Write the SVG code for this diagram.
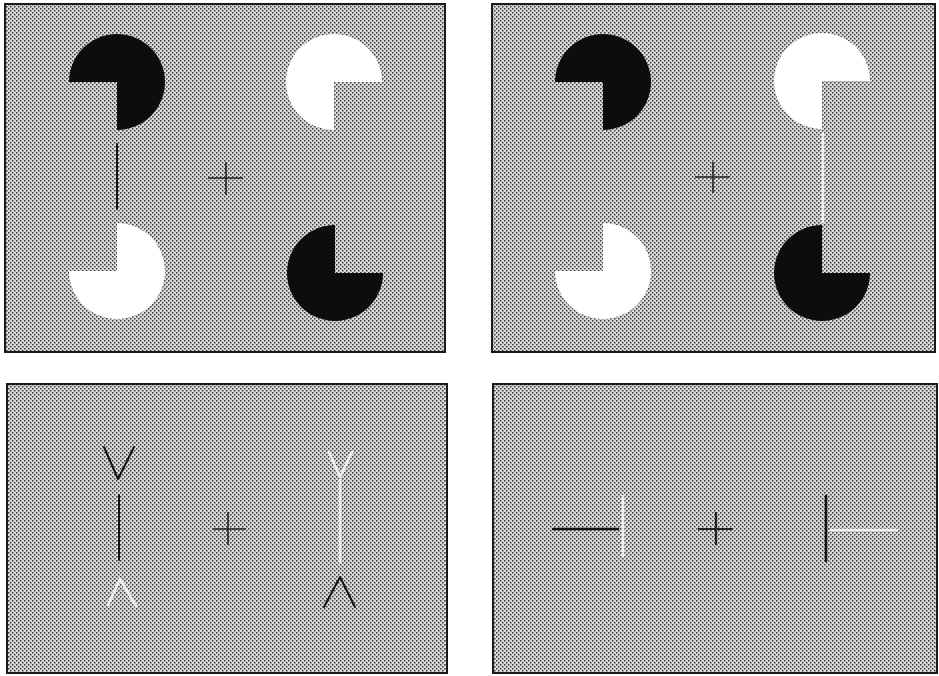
<svg xmlns="http://www.w3.org/2000/svg" width="939" height="676" viewBox="0 0 939 676">
<style>
.panel{fill:url(#dots);stroke:#1a1a1a;stroke-width:2}
.blk{fill:#0d0d0d}
.wht{fill:#ffffff}
.bl{stroke:#111;stroke-width:2;fill:none;stroke-linecap:round;stroke-linejoin:round}
.wl{stroke:#f0f0f0;stroke-width:2.6;fill:none;stroke-linecap:round;stroke-linejoin:round}
.fix{stroke:#222;stroke-width:1.6;fill:none}
</style>
<defs>
<pattern id="dots" width="4" height="4" patternUnits="userSpaceOnUse">
<rect width="4" height="4" fill="#dadada"/>
<rect x="0" y="0" width="1.5" height="1.5" fill="#3a3a3a"/>
<rect x="2" y="2" width="1.5" height="1.5" fill="#3a3a3a"/>
</pattern>
</defs>
<rect width="939" height="676" fill="#ffffff"/>

<g id="panel1">
<rect class="panel" x="5" y="4" width="440" height="348"/>
<path class="blk" d="M117,82 L69,82 A48,48 0 1 1 117,130 Z"/>
<path class="wht" d="M334,82 L334,130 A48,48 0 1 1 382,82 Z"/>
<path class="wht" d="M117,271 L117,223 A48,48 0 1 1 69,271 Z"/>
<path class="blk" d="M335,273 L383,273 A48,48 0 1 1 335,225 Z"/>
<line class="bl" x1="117" y1="144" x2="117" y2="209"/>
<path class="fix" d="M208,178 H243 M226,162 V195"/>
</g>

<g id="panel2">
<rect class="panel" x="492" y="4" width="443" height="348"/>
<path class="blk" d="M603,82 L555,82 A48,48 0 1 1 603,130 Z"/>
<path class="wht" d="M822,81 L822,129 A48,48 0 1 1 870,81 Z"/>
<path class="wht" d="M603,271 L603,223 A48,48 0 1 1 555,271 Z"/>
<path class="blk" d="M822,273 L870,273 A48,48 0 1 1 822,225 Z"/>
<line class="wl" x1="823" y1="133" x2="823" y2="222"/>
<path class="fix" d="M695,177 H730 M713,162 V193"/>
</g>

<g id="panel3">
<rect class="panel" x="7" y="384" width="440" height="289"/>
<path class="bl" d="M104,447 L118,479 L134,447"/>
<line class="bl" x1="119" y1="495" x2="119" y2="560"/>
<path class="wl" d="M108,605 L120,579 L136,606"/>
<path class="wl" d="M329,452 L340,477 L352,452"/>
<line class="wl" x1="340" y1="480" x2="340" y2="562"/>
<path class="bl" d="M324,607 L340,577 L355,607"/>
<path class="fix" d="M213,529 H246 M228,512 V545"/>
</g>

<g id="panel4">
<rect class="panel" x="493" y="384" width="444" height="289"/>
<line class="bl" x1="553" y1="529" x2="618" y2="529" style="stroke-width:2.5"/>
<line class="wl" x1="623" y1="496" x2="623" y2="556"/>
<path class="fix" d="M698,529 H733 M716,512 V545" style="stroke-width:2.2"/>
<line class="bl" x1="826" y1="496" x2="826" y2="561" style="stroke-width:2.5"/>
<line class="wl" x1="831" y1="530" x2="897" y2="530"/>
</g>
</svg>
